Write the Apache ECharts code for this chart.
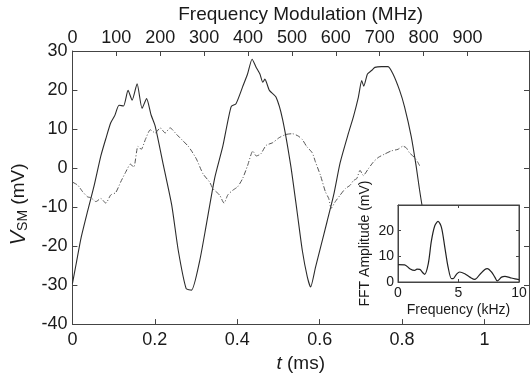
<!DOCTYPE html>
<html>
<head>
<meta charset="utf-8">
<script src="https://cdn.jsdelivr.net/npm/echarts@6/dist/echarts.min.js"></script>
<style>html,body{margin:0;padding:0;background:#fff}#c{width:531px;height:378px}</style>
</head>
<body>
<div id="c"></div>
<script>
// ---- data ----
const solidT = [0.000,0.009,0.021,0.037,0.053,0.069,0.081,0.093,0.103,0.113,0.124,0.135,0.145,0.157,0.169,0.180,0.191,0.201,0.221,0.241,0.257,0.276,0.289,0.309,0.325,0.345,0.365,0.385,0.397,0.413,0.425,0.436,0.446,0.455,0.462,0.467,0.478,0.494,0.510,0.530,0.545,0.558,0.570,0.578,0.590,0.602,0.618,0.634,0.650,0.670,0.682,0.694,0.702,0.707,0.716,0.726,0.734,0.750,0.766,0.778,0.794,0.806,0.822,0.834,0.842,0.850,0.860];
const solidV = [-29.6,-24.6,-17.9,-11.0,-4.4,3.1,7.5,11.6,13.5,16.1,15.9,19.9,17.4,21.6,15.3,17.8,13.6,10.7,0.6,-9.5,-21.2,-30.9,-31.3,-23.7,-14.5,-2.7,5.6,15.7,16.5,20.8,24.1,27.9,25.8,24.1,22.0,22.8,19.9,18.2,12.5,0.5,-11.0,-21.2,-27.9,-30.5,-25.4,-20.4,-13.7,-6.9,1.5,9.0,13.2,18.2,22.4,21.0,24.1,25.0,25.8,26.0,26.0,24.1,19.9,15.7,8.2,0.6,-5.3,-10.5,-15.0];
const dashT = [0.000,0.013,0.025,0.037,0.045,0.057,0.069,0.081,0.093,0.105,0.117,0.129,0.141,0.149,0.159,0.167,0.177,0.189,0.201,0.213,0.225,0.237,0.253,0.269,0.281,0.289,0.301,0.317,0.333,0.341,0.357,0.368,0.377,0.389,0.401,0.413,0.425,0.438,0.446,0.457,0.470,0.486,0.502,0.518,0.534,0.548,0.558,0.568,0.582,0.590,0.602,0.614,0.622,0.628,0.638,0.650,0.662,0.674,0.682,0.690,0.698,0.706,0.718,0.730,0.742,0.758,0.774,0.790,0.802,0.810,0.818,0.830,0.838,0.844];
const dashV = [-3.6,-4.4,-6.1,-7.4,-7.6,-8.6,-7.8,-9.0,-6.9,-6.3,-3.6,-1.1,1.0,0.2,5.6,4.8,7.3,9.8,9.0,10.3,9.0,10.3,8.6,6.9,5.6,4.4,2.3,-1.5,-3.6,-5.3,-6.9,-9.0,-6.9,-5.7,-4.8,-2.7,0.6,4.4,3.1,3.6,5.8,6.5,7.8,8.6,8.8,8.2,7.3,5.6,3.9,1.5,-1.9,-6.1,-7.8,-10.3,-8.6,-6.9,-5.3,-4.4,-3.2,-2.7,-0.6,-1.9,-0.2,1.5,2.7,3.6,4.4,4.8,5.6,5.2,3.9,2.7,1.5,0.3];
const fftF = [0,0.55,0.97,1.38,1.57,1.8,2.07,2.2,2.5,2.76,3.04,3.31,3.59,3.87,4.14,4.42,4.56,4.83,5.1,5.52,5.94,6.35,6.77,7.18,7.38,7.73,8.0,8.2,8.56,8.84,9.25,9.67,10];
const fftA = [6.8,6.7,5.2,4.5,5.0,4.9,3.5,3.0,7.1,16.0,21.9,23.6,21.3,13.5,5.8,1.3,1.3,3.0,3.9,3.2,1.9,1.0,3.0,4.9,5.2,3.9,1.9,0.4,1.9,2.2,1.7,1.2,0.9];
const tTicks = [0,0.2,0.4,0.6,0.8,1];
const mhzTicks = [0,100,200,300,400,500,600,700,800,900];
const vTicks = [-40,-30,-20,-10,0,10,20,30];
const fftYTicks = [0,10,20];
const fftXTicks = [0,5,10];

// ---- chart ----
const FONT = 'Liberation Sans';
const TXT = '#1a1a1a';
const LINE = '#444';
const chart = echarts.init(document.getElementById('c'), null, {renderer: 'canvas'});
const lab = (size, extra) => Object.assign({color: TXT, fontFamily: FONT, fontSize: size}, extra || {});
function pairs(xs, ys) { return xs.map((x, i) => [x, ys[i]]); }

const option = {
  animation: false,
  backgroundColor: '#fff',
  grid: [
    {left: 68, top: 50, right: 2, bottom: 50, show: false},
    {left: 398, top: 205, width: 121, height: 77, show: true, backgroundColor: '#fff', borderColor: LINE, borderWidth: 1, z: 5}
  ],
  xAxis: [
    {type: 'value', gridIndex: 0, position: 'bottom', min: 0, max: 1.108,
     axisLine: {show: true, onZero: false, lineStyle: {color: LINE}},
     axisTick: {show: true, inside: true, length: 5, customValues: tTicks, lineStyle: {color: LINE}},
     axisLabel: Object.assign(lab(18), {customValues: tTicks, margin: 7, formatter: v => String(v)}),
     splitLine: {show: false},
     name: '{i|t} (ms)', nameLocation: 'middle', nameGap: 29,
     nameTextStyle: lab(19, {rich: {i: {fontStyle: 'italic', fontSize: 19, fontFamily: FONT, color: TXT}}})},
    {type: 'value', gridIndex: 0, position: 'top', min: 0, max: 1040,
     axisLine: {show: true, onZero: false, lineStyle: {color: LINE}},
     axisTick: {show: true, inside: true, length: 5, customValues: mhzTicks, lineStyle: {color: LINE}},
     axisLabel: Object.assign(lab(18), {customValues: mhzTicks, margin: 4}),
     splitLine: {show: false},
     name: 'Frequency Modulation (MHz)', nameLocation: 'middle', nameGap: 27,
     nameTextStyle: lab(19)},
    {type: 'value', gridIndex: 1, position: 'bottom', min: 0, max: 10, z: 6,
     axisLine: {show: true, onZero: false, lineStyle: {color: LINE}},
     axisTick: {show: true, inside: true, length: 3, customValues: fftXTicks, lineStyle: {color: LINE}},
     axisLabel: Object.assign(lab(14), {customValues: fftXTicks, margin: 4}),
     splitLine: {show: false},
     name: 'Frequency (kHz)', nameLocation: 'middle', nameGap: 21, nameTextStyle: lab(14)},
    {type: 'value', gridIndex: 1, position: 'top', min: 0, max: 10, z: 6,
     axisLine: {show: true, onZero: false, lineStyle: {color: LINE}},
     axisTick: {show: true, inside: true, length: 3, customValues: fftXTicks, lineStyle: {color: LINE}},
     axisLabel: {show: false}, splitLine: {show: false}}
  ],
  yAxis: [
    {type: 'value', gridIndex: 0, position: 'left', min: -40, max: 30,
     axisLine: {show: true, onZero: false, lineStyle: {color: LINE}},
     axisTick: {show: true, inside: true, length: 5, customValues: vTicks, lineStyle: {color: LINE}},
     axisLabel: Object.assign(lab(18), {customValues: vTicks, margin: 5}),
     splitLine: {show: false},
     name: '{i|V}{s|SM} (mV)', nameLocation: 'middle', nameGap: 36,
     nameTextStyle: lab(19, {padding: [0, 34, 0, 0], rich: {
       i: {fontStyle: 'italic', fontSize: 22, fontFamily: FONT, color: TXT},
       s: {fontSize: 14, fontFamily: FONT, color: TXT, padding: [9, 0, 0, 0]}
     }})},
    {type: 'value', gridIndex: 0, position: 'right', min: -40, max: 30,
     axisLine: {show: true, onZero: false, lineStyle: {color: LINE}},
     axisTick: {show: true, inside: true, length: 5, customValues: vTicks, lineStyle: {color: LINE}},
     axisLabel: {show: false}, splitLine: {show: false}},
    {type: 'value', gridIndex: 1, position: 'left', min: 0, max: 30, z: 6,
     axisLine: {show: true, onZero: false, lineStyle: {color: LINE}},
     axisTick: {show: true, inside: true, length: 3, customValues: fftYTicks, lineStyle: {color: LINE}},
     axisLabel: Object.assign(lab(14), {customValues: fftYTicks, margin: 4}),
     splitLine: {show: false},
     name: 'FFT Amplitude (mV)', nameLocation: 'middle', nameGap: 26, nameTextStyle: lab(14)},
    {type: 'value', gridIndex: 1, position: 'right', min: 0, max: 30, z: 6,
     axisLine: {show: true, onZero: false, lineStyle: {color: LINE}},
     axisTick: {show: true, inside: true, length: 3, customValues: fftYTicks, lineStyle: {color: LINE}},
     axisLabel: {show: false}, splitLine: {show: false}}
  ],
  series: [
    {type: 'line', xAxisIndex: 0, yAxisIndex: 0, data: pairs(solidT, solidV), showSymbol: false, smooth: 0.2, z: 2,
     lineStyle: {color: '#2b2b2b', width: 1.1}},
    {type: 'line', xAxisIndex: 0, yAxisIndex: 0, data: pairs(dashT, dashV), showSymbol: false, smooth: 0.2, z: 2,
     lineStyle: {color: '#555', width: 1, type: [5, 2, 1, 2]}},
    {type: 'line', xAxisIndex: 2, yAxisIndex: 2, data: pairs(fftF, fftA), showSymbol: false, smooth: 0.3, z: 10,
     lineStyle: {color: '#222', width: 1.2}}
  ]
};
chart.setOption(option);
</script>
</body>
</html>
